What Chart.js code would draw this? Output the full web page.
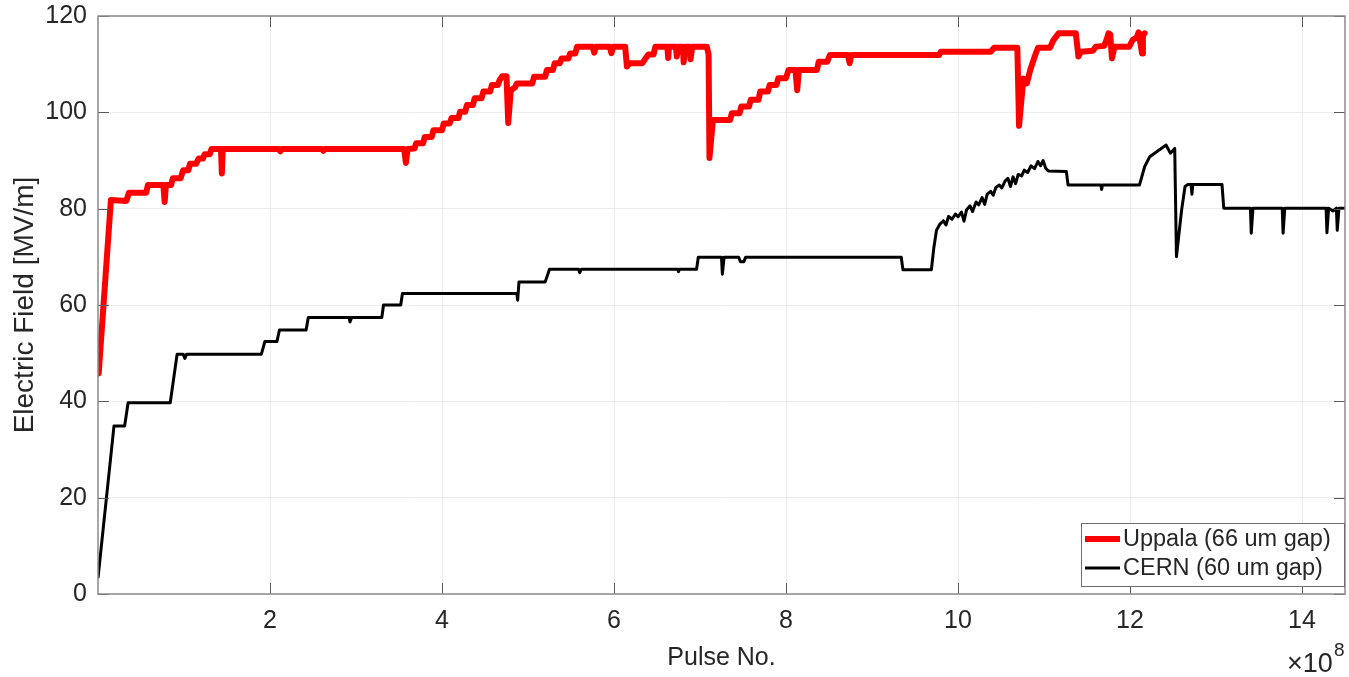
<!DOCTYPE html>
<html>
<head>
<meta charset="utf-8">
<script src="https://cdn.jsdelivr.net/npm/chart.js@4/dist/chart.umd.min.js"></script>
<style>
  html, body { margin: 0; padding: 0; background: #ffffff; }
  #wrap { width: 1349px; height: 677px; }
</style>
</head>
<body>
<div id="wrap"><canvas id="c" width="1349" height="677"></canvas></div>
<script>
// Conditioning history: pulse number (in units of 1e8) vs. electric field (MV/m)

const uppalaPulses = [
  0.008, 0.15, 0.33, 0.36, 0.56, 0.58, 0.76, 0.775, 0.79, 0.85, 0.87, 0.96, 0.99, 1.05, 1.07, 1.14, 1.17, 1.22, 1.24, 1.30,
  1.32, 1.43, 1.44, 1.45, 2.10, 2.12, 2.14, 2.60, 2.62, 2.64, 3.56, 3.58, 3.60, 3.68, 3.70, 3.78, 3.80, 3.88, 3.90, 4.00,
  4.02, 4.09, 4.11, 4.19, 4.21, 4.27, 4.29, 4.36, 4.38, 4.46, 4.48, 4.56, 4.58, 4.65, 4.67, 4.70, 4.75, 4.77, 4.80, 4.85,
  4.87, 5.05, 5.07, 5.20, 5.22, 5.29, 5.31, 5.37, 5.39, 5.47, 5.49, 5.55, 5.57, 5.75, 5.77, 5.79, 5.95, 5.97, 5.99, 6.13,
  6.15, 6.18, 6.33, 6.36, 6.40, 6.46, 6.48, 6.62, 6.63, 6.64, 6.72, 6.73, 6.75, 6.80, 6.81, 6.83, 6.88, 6.89, 6.91, 7.08,
  7.10, 7.11, 7.15, 7.35, 7.37, 7.46, 7.48, 7.57, 7.59, 7.68, 7.70, 7.79, 7.81, 7.89, 7.91, 8.00, 8.03, 8.11, 8.13, 8.15,
  8.36, 8.38, 8.48, 8.51, 8.72, 8.74, 8.76, 9.78, 9.80, 10.38, 10.42, 10.69, 10.71, 10.76, 10.80, 10.84, 10.90, 10.93, 11.07, 11.11,
  11.17, 11.37, 11.40, 11.43, 11.57, 11.60, 11.70, 11.73, 11.75, 11.77, 11.79, 11.82, 11.99, 12.03, 12.08, 12.10, 12.12, 12.14, 12.15, 12.17
];
const uppalaField = [
  45.8, 81.8, 81.6, 83.3, 83.3, 84.9, 84.9, 81.4, 84.9, 84.9, 86.3, 86.3, 88.0, 88.0, 89.3, 89.3, 90.4, 90.4, 91.3, 91.3,
  92.4, 92.4, 87.3, 92.4, 92.4, 91.9, 92.4, 92.4, 92.0, 92.4, 92.4, 89.5, 92.4, 92.5, 93.6, 93.6, 94.9, 94.9, 96.3, 96.3,
  97.7, 97.7, 98.8, 98.8, 100.1, 100.1, 101.5, 101.5, 102.9, 102.9, 104.3, 104.3, 105.7, 105.7, 106.7, 107.5, 107.5, 97.8, 104.6, 105.2,
  106.0, 106.0, 107.4, 107.4, 108.8, 108.8, 110.2, 110.2, 111.2, 111.2, 112.2, 112.2, 113.6, 113.6, 112.4, 113.6, 113.6, 112.3, 113.6, 113.6,
  109.5, 110.2, 110.2, 111.0, 112.0, 112.0, 113.6, 113.6, 111.3, 113.6, 113.6, 111.6, 113.6, 113.6, 110.4, 113.6, 113.6, 111.0, 113.6, 113.6,
  112.0, 90.5, 98.4, 98.4, 99.8, 99.8, 101.2, 101.2, 102.6, 102.6, 104.3, 104.3, 105.7, 105.7, 107.1, 107.1, 108.8, 108.8, 104.6, 108.8,
  108.8, 110.5, 110.5, 111.9, 111.9, 110.2, 111.9, 111.9, 112.6, 112.6, 113.4, 113.4, 97.2, 107.0, 106.0, 108.8, 112.0, 113.4, 113.4, 115.0,
  116.4, 116.4, 111.6, 112.6, 112.8, 113.6, 113.8, 115.2, 116.4, 116.2, 111.2, 113.6, 113.6, 115.0, 115.6, 116.6, 114.5, 112.2, 116.0, 116.4
];

const cernPulses = [
  0.00, 0.186, 0.31, 0.35, 0.84, 0.92, 0.99, 1.01, 1.03, 1.90, 1.94, 2.08, 2.11, 2.42, 2.445, 2.92, 2.93, 2.95, 3.30, 3.32,
  3.52, 3.54, 4.87, 4.88, 4.895, 5.20, 5.25, 5.59, 5.60, 5.62, 6.74, 6.75, 6.76, 6.96, 6.98, 7.25, 7.26, 7.28, 7.45, 7.47,
  7.51, 7.53, 9.34, 9.36, 9.69, 9.72, 9.75, 9.79, 9.83, 9.86, 9.89, 9.93, 9.97, 10.00, 10.04, 10.07, 10.10, 10.14, 10.17, 10.21,
  10.24, 10.28, 10.31, 10.34, 10.38, 10.41, 10.44, 10.48, 10.51, 10.55, 10.58, 10.61, 10.64, 10.67, 10.70, 10.74, 10.77, 10.81, 10.85, 10.89,
  10.93, 10.96, 10.99, 11.02, 11.05, 11.26, 11.28, 11.66, 11.67, 11.68, 12.11, 12.17, 12.23, 12.31, 12.42, 12.47, 12.52, 12.54, 12.60, 12.64,
  12.67, 12.71, 12.72, 12.73, 13.07, 13.09, 13.40, 13.41, 13.43, 13.77, 13.78, 13.80, 14.28, 14.29, 14.31, 14.36, 14.40, 14.41, 14.43, 14.50
];
const cernField = [
  3.3, 34.9, 34.9, 39.7, 39.7, 49.8, 49.8, 48.9, 49.8, 49.8, 52.4, 52.4, 54.8, 54.8, 57.4, 57.4, 56.5, 57.4, 57.4, 60.0,
  60.0, 62.4, 62.4, 61.0, 64.8, 64.8, 67.4, 67.4, 66.7, 67.4, 67.4, 66.9, 67.4, 67.4, 69.9, 69.9, 66.4, 69.9, 69.9, 69.0,
  69.0, 69.9, 69.9, 67.3, 67.3, 72.0, 75.5, 76.8, 77.5, 76.6, 78.4, 77.8, 78.9, 78.3, 79.3, 77.4, 79.8, 80.6, 79.4, 81.4,
  80.8, 82.3, 80.9, 83.0, 83.6, 82.8, 84.4, 84.9, 84.3, 85.8, 86.3, 84.6, 86.6, 85.2, 87.1, 86.8, 88.0, 87.5, 88.9, 88.3,
  89.8, 88.9, 90.0, 88.4, 87.8, 87.7, 84.9, 84.9, 84.0, 84.9, 84.9, 88.7, 90.8, 91.8, 93.2, 91.5, 92.5, 70.0, 79.7, 84.6,
  85.0, 85.0, 83.0, 85.0, 85.0, 80.1, 80.1, 74.9, 80.1, 80.1, 74.9, 80.1, 80.1, 75.0, 80.1, 79.5, 80.1, 75.5, 80.1, 80.1
];

const xTickValues = [2, 4, 6, 8, 10, 12, 14];
const yTickValues = [0, 20, 40, 60, 80, 100, 120];
const seriesLabels = ['Uppala (66 um gap)', 'CERN (60 um gap)'];

const FONT = "'Liberation Sans', Arial, Helvetica, sans-serif";
const TEXT = '#262626';

function toPoints(xs, ys) {
  return xs.map((x, i) => ({ x: x, y: ys[i] }));
}

// Box outline, inward tick marks, exponent note and the legend
const axesDecor = {
  id: 'axesDecor',
  afterDraw(chart) {
    const { ctx, chartArea: a, scales } = chart;
    const xs = scales.x, ys = scales.y;
    ctx.save();
    // inward ticks on all four sides
    ctx.strokeStyle = '#5a5a5a';
    ctx.lineWidth = 1;
    const tl = 11;
    ctx.beginPath();
    xTickValues.forEach(v => {
      const px = Math.round(xs.getPixelForValue(v)) + 0.5;
      ctx.moveTo(px, a.bottom); ctx.lineTo(px, a.bottom - tl);
      ctx.moveTo(px, a.top); ctx.lineTo(px, a.top + tl);
    });
    yTickValues.forEach(v => {
      const py = Math.round(ys.getPixelForValue(v)) + 0.5;
      ctx.moveTo(a.left, py); ctx.lineTo(a.left + tl, py);
      ctx.moveTo(a.right, py); ctx.lineTo(a.right - tl, py);
    });
    ctx.stroke();
    // box
    ctx.strokeStyle = '#8a8a8a';
    ctx.lineWidth = 1.5;
    ctx.strokeRect(a.left, a.top, a.right - a.left, a.bottom - a.top);

    // x10^8 exponent note
    ctx.fillStyle = TEXT;
    ctx.textBaseline = 'alphabetic';
    ctx.textAlign = 'left';
    ctx.font = '27px ' + FONT;
    ctx.fillText('\u00d710', 1287, 672);
    ctx.font = '19px ' + FONT;
    ctx.fillText('8', 1334, 656);

    // legend
    const lx = 1081, ly = 523, lw = 263, lh = 63;
    ctx.fillStyle = '#ffffff';
    ctx.fillRect(lx, ly, lw, lh);
    ctx.strokeStyle = '#6e6e6e';
    ctx.lineWidth = 1;
    ctx.strokeRect(lx + 0.5, ly + 0.5, lw, lh);
    const rows = [539, 568];
    chart.data.datasets.forEach((ds, i) => {
      const y = rows[i];
      ctx.strokeStyle = ds.borderColor;
      ctx.lineWidth = ds.borderWidth;
      ctx.lineCap = 'butt';
      ctx.beginPath();
      ctx.moveTo(1085, y); ctx.lineTo(1120, y);
      ctx.stroke();
      ctx.fillStyle = TEXT;
      ctx.font = '23.5px ' + FONT;
      ctx.textBaseline = 'middle';
      ctx.fillText(ds.label, 1123, y + 1);
    });
    ctx.restore();
  }
};

new Chart(document.getElementById('c'), {
  type: 'scatter',
  data: {
    datasets: [
      {
        label: seriesLabels[0],
        data: toPoints(uppalaPulses, uppalaField),
        showLine: true,
        borderColor: '#ff0000',
        backgroundColor: '#ff0000',
        borderWidth: 6,
        pointRadius: 0,
        tension: 0,
        borderJoinStyle: 'round',
        borderCapStyle: 'round'
      },
      {
        label: seriesLabels[1],
        data: toPoints(cernPulses, cernField),
        showLine: true,
        borderColor: '#000000',
        backgroundColor: '#000000',
        borderWidth: 3,
        pointRadius: 0,
        tension: 0,
        borderJoinStyle: 'round'
      }
    ]
  },
  options: {
    responsive: false,
    animation: false,
    devicePixelRatio: 1,
    layout: { padding: { top: 16, right: 4, left: 0, bottom: 0 } },
    plugins: {
      legend: { display: false },
      tooltip: { enabled: false }
    },
    scales: {
      x: {
        type: 'linear',
        min: 0,
        max: 14.5,
        afterBuildTicks(scale) { scale.ticks = xTickValues.map(v => ({ value: v })); },
        afterFit(scale) { scale.height = 83; scale.paddingLeft = 0; scale.paddingRight = 0; },
        grid: { color: '#ececec', lineWidth: 1, drawTicks: false },
        border: { display: false },
        ticks: {
          padding: 12,
          color: TEXT,
          font: { family: FONT, size: 25 },
          maxRotation: 0,
          callback: v => String(v)
        },
        title: {
          display: true,
          text: 'Pulse No.',
          color: TEXT,
          font: { family: FONT, size: 25 },
          padding: { top: 0, bottom: 4 }
        }
      },
      y: {
        type: 'linear',
        min: 0,
        max: 120,
        afterBuildTicks(scale) { scale.ticks = yTickValues.map(v => ({ value: v })); },
        afterFit(scale) { scale.width = 98; scale.paddingTop = 0; scale.paddingBottom = 0; },
        grid: { color: '#ececec', lineWidth: 1, drawTicks: false },
        border: { display: false },
        ticks: {
          padding: 11,
          color: TEXT,
          font: { family: FONT, size: 25 },
          callback: v => String(v)
        },
        title: {
          display: true,
          text: 'Electric Field [MV/m]',
          color: TEXT,
          font: { family: FONT, size: 28 },
          padding: { top: 8, bottom: 0 }
        }
      }
    }
  },
  plugins: [axesDecor]
});
</script>
</body>
</html>
